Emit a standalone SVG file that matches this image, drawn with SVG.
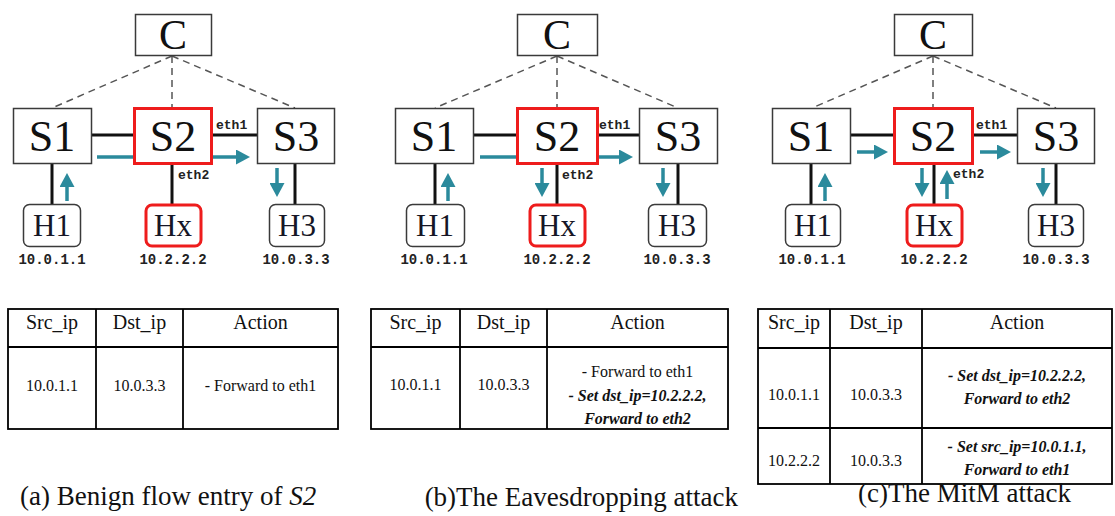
<svg xmlns="http://www.w3.org/2000/svg" width="1115" height="516" viewBox="0 0 1115 516">
<style>
.box{fill:#fff;stroke:#3a3a3a;stroke-width:1.5}
.red{fill:#fff;stroke:#ee1c1c;stroke-width:3}
.host{fill:#fff;stroke:#3a3a3a;stroke-width:1.5}
.lbl{font-family:"Liberation Serif",serif;font-size:44px;fill:#111;text-anchor:middle}
.clbl{font-family:"Liberation Serif",serif;font-size:42px;fill:#111;text-anchor:middle}
.hlbl{font-family:"Liberation Serif",serif;font-size:31px;fill:#161626;text-anchor:middle}
.ip{font-family:"Liberation Mono",monospace;font-size:14px;font-weight:bold;fill:#222;text-anchor:middle}
.eth{font-family:"Liberation Mono",monospace;font-size:13px;font-weight:bold;fill:#222}
.dash{stroke:#555;stroke-width:1.5;stroke-dasharray:7 5;fill:none}
.link{stroke:#111;stroke-width:3;fill:none}
.arr{stroke:#2b8a9c;stroke-width:3.5;fill:none;marker-end:url(#ah)}
.tbl{fill:none;stroke:#000;stroke-width:1.8}
.th{font-family:"Liberation Serif",serif;font-size:20px;fill:#111;text-anchor:middle}
.td{font-family:"Liberation Serif",serif;font-size:16px;fill:#111;text-anchor:middle}
.tb{font-family:"Liberation Serif",serif;font-size:16px;font-weight:bold;font-style:italic;fill:#111;text-anchor:middle}
.cap{font-family:"Liberation Serif",serif;font-size:27px;fill:#111}
</style>
<defs>
<marker id="ah" viewBox="0 0 14 15" markerWidth="14" markerHeight="15" refX="1" refY="7.5" orient="auto" markerUnits="userSpaceOnUse">
<path d="M0,0 L14,7.5 L0,15 z" fill="#2b8a9c"/>
</marker>
</defs>

<!-- connectors -->
<g id="connectors">
<!-- panel a -->
<line class="dash" x1="172" y1="56" x2="52" y2="108"/>
<line class="dash" x1="172" y1="56" x2="172" y2="107"/>
<line class="dash" x1="172" y1="56" x2="295" y2="108"/>
<line class="link" x1="92" y1="135" x2="133" y2="135"/>
<line class="link" x1="213" y1="135" x2="257" y2="135"/>
<line class="link" x1="52" y1="164" x2="52" y2="204"/>
<line class="link" x1="172" y1="165" x2="172" y2="205"/>
<line class="link" x1="295" y1="164" x2="295" y2="204"/>
<line class="arr" x1="97" y1="157" x2="237" y2="157"/>
<line class="arr" x1="67" y1="201" x2="67" y2="186"/>
<line class="arr" x1="277" y1="168" x2="277" y2="184"/>
<!-- panel b -->
<line class="dash" x1="557" y1="56" x2="435" y2="108"/>
<line class="dash" x1="557" y1="56" x2="557" y2="107"/>
<line class="dash" x1="557" y1="56" x2="678" y2="108"/>
<line class="link" x1="474" y1="135" x2="516" y2="135"/>
<line class="link" x1="598" y1="135" x2="639" y2="135"/>
<line class="link" x1="435" y1="164" x2="435" y2="204"/>
<line class="link" x1="557" y1="165" x2="557" y2="205"/>
<line class="link" x1="678" y1="164" x2="678" y2="204"/>
<line class="arr" x1="480" y1="157" x2="620" y2="157"/>
<line class="arr" x1="448" y1="201" x2="448" y2="186"/>
<line class="arr" x1="542" y1="168" x2="542" y2="184"/>
<line class="arr" x1="663" y1="168" x2="663" y2="184"/>
<!-- panel c -->
<line class="dash" x1="933" y1="56" x2="812" y2="108"/>
<line class="dash" x1="933" y1="56" x2="933" y2="107"/>
<line class="dash" x1="933" y1="56" x2="1056" y2="108"/>
<line class="link" x1="851" y1="135" x2="894" y2="135"/>
<line class="link" x1="973" y1="135" x2="1017" y2="135"/>
<line class="link" x1="811" y1="164" x2="811" y2="204"/>
<line class="link" x1="934" y1="165" x2="934" y2="205"/>
<line class="link" x1="1056" y1="164" x2="1056" y2="204"/>
<line class="arr" x1="857" y1="152" x2="875" y2="152"/>
<line class="arr" x1="980" y1="152" x2="998" y2="152"/>
<line class="arr" x1="825" y1="201" x2="825" y2="186"/>
<line class="arr" x1="922" y1="168" x2="922" y2="184"/>
<line class="arr" x1="947" y1="199" x2="947" y2="183"/>
<line class="arr" x1="1043" y1="168" x2="1043" y2="184"/>
</g>

<!-- panel a nodes -->
<g id="a-C"><rect class="box" x="135.5" y="14.5" width="76" height="41"/><text class="clbl" x="173" y="49">C</text></g>
<g id="a-S1"><rect class="box" x="13.5" y="108.5" width="78" height="55"/><text class="lbl" x="52" y="151">S1</text></g>
<g id="a-S2"><rect class="red" x="134.5" y="108.5" width="77" height="55"/><text class="lbl" x="173" y="151">S2</text></g>
<g id="a-S3"><rect class="box" x="257.5" y="108.5" width="77" height="55"/><text class="lbl" x="296" y="151">S3</text></g>
<g id="a-H1"><rect class="host" x="23.5" y="204.5" width="57" height="42" rx="6"/><text class="hlbl" x="52" y="236">H1</text><text class="ip" x="52" y="264">10.0.1.1</text></g>
<g id="a-Hx"><rect class="red" x="146" y="205" width="55" height="41" rx="6"/><text class="hlbl" x="173" y="236">Hx</text><text class="ip" x="173" y="264">10.2.2.2</text></g>
<g id="a-H3"><rect class="host" x="269.5" y="204.5" width="55" height="42" rx="6"/><text class="hlbl" x="297" y="236">H3</text><text class="ip" x="296" y="264">10.0.3.3</text></g>
<g id="a-labels"><text class="eth" x="216" y="129">eth1</text><text class="eth" x="178" y="179">eth2</text></g>

<!-- panel b nodes -->
<g id="b-C"><rect class="box" x="517.5" y="14.5" width="80" height="41"/><text class="clbl" x="557" y="49">C</text></g>
<g id="b-S1"><rect class="box" x="395.5" y="108.5" width="78" height="55"/><text class="lbl" x="434" y="151">S1</text></g>
<g id="b-S2"><rect class="red" x="517.5" y="108.5" width="80" height="55"/><text class="lbl" x="557" y="151">S2</text></g>
<g id="b-S3"><rect class="box" x="639.5" y="108.5" width="78" height="55"/><text class="lbl" x="678" y="151">S3</text></g>
<g id="b-H1"><rect class="host" x="406.5" y="204.5" width="58" height="42" rx="6"/><text class="hlbl" x="435" y="236">H1</text><text class="ip" x="434" y="264">10.0.1.1</text></g>
<g id="b-Hx"><rect class="red" x="530" y="205" width="55" height="41" rx="6"/><text class="hlbl" x="557" y="236">Hx</text><text class="ip" x="557" y="264">10.2.2.2</text></g>
<g id="b-H3"><rect class="host" x="648.5" y="204.5" width="58" height="42" rx="6"/><text class="hlbl" x="677" y="236">H3</text><text class="ip" x="677" y="264">10.0.3.3</text></g>
<g id="b-labels"><text class="eth" x="599" y="129">eth1</text><text class="eth" x="562" y="179">eth2</text></g>

<!-- panel c nodes -->
<g id="c-C"><rect class="box" x="894.5" y="14.5" width="78" height="41"/><text class="clbl" x="933" y="49">C</text></g>
<g id="c-S1"><rect class="box" x="772.5" y="108.5" width="78" height="55"/><text class="lbl" x="811" y="151">S1</text></g>
<g id="c-S2"><rect class="red" x="894.5" y="108.5" width="78" height="55"/><text class="lbl" x="933" y="151">S2</text></g>
<g id="c-S3"><rect class="box" x="1017.5" y="108.5" width="77" height="55"/><text class="lbl" x="1056" y="151">S3</text></g>
<g id="c-H1"><rect class="host" x="785.5" y="204.5" width="55" height="42" rx="6"/><text class="hlbl" x="813" y="236">H1</text><text class="ip" x="812" y="264">10.0.1.1</text></g>
<g id="c-Hx"><rect class="red" x="907" y="205" width="55" height="41" rx="6"/><text class="hlbl" x="934" y="236">Hx</text><text class="ip" x="934" y="264">10.2.2.2</text></g>
<g id="c-H3"><rect class="host" x="1028.5" y="204.5" width="55" height="42" rx="6"/><text class="hlbl" x="1056" y="236">H3</text><text class="ip" x="1056" y="264">10.0.3.3</text></g>
<g id="c-labels"><text class="eth" x="976" y="129">eth1</text><text class="eth" x="953" y="178">eth2</text></g>

<!-- table a -->
<g id="table-a">
<rect class="tbl" x="8" y="309" width="330" height="120"/>
<line class="tbl" x1="8" y1="347" x2="338" y2="347"/>
<line class="tbl" x1="96" y1="309" x2="96" y2="429"/>
<line class="tbl" x1="183" y1="309" x2="183" y2="429"/>
<text class="th" x="52" y="329">Src_ip</text>
<text class="th" x="139.5" y="329">Dst_ip</text>
<text class="th" x="260.5" y="329">Action</text>
<text class="td" x="52" y="391">10.0.1.1</text>
<text class="td" x="139.5" y="391">10.0.3.3</text>
<text class="td" x="260.5" y="391">- Forward to eth1</text>
</g>

<!-- table b -->
<g id="table-b">
<rect class="tbl" x="371" y="309" width="357" height="120"/>
<line class="tbl" x1="371" y1="347" x2="728" y2="347"/>
<line class="tbl" x1="460" y1="309" x2="460" y2="429"/>
<line class="tbl" x1="547" y1="309" x2="547" y2="429"/>
<text class="th" x="415.5" y="329">Src_ip</text>
<text class="th" x="503.5" y="329">Dst_ip</text>
<text class="th" x="637.5" y="329">Action</text>
<text class="td" x="415.5" y="390">10.0.1.1</text>
<text class="td" x="503.5" y="390">10.0.3.3</text>
<text class="td" x="637.5" y="377">- Forward to eth1</text>
<text class="tb" x="637.5" y="401">- Set dst_ip=10.2.2.2,</text>
<text class="tb" x="637.5" y="424">Forward to eth2</text>
</g>

<!-- table c -->
<g id="table-c">
<rect class="tbl" x="758" y="309" width="354" height="175"/>
<line class="tbl" x1="758" y1="348" x2="1112" y2="348"/>
<line class="tbl" x1="758" y1="428" x2="1112" y2="428"/>
<line class="tbl" x1="830" y1="309" x2="830" y2="484"/>
<line class="tbl" x1="922" y1="309" x2="922" y2="484"/>
<text class="th" x="794" y="329">Src_ip</text>
<text class="th" x="876" y="329">Dst_ip</text>
<text class="th" x="1017" y="329">Action</text>
<text class="td" x="794" y="400">10.0.1.1</text>
<text class="td" x="876" y="400">10.0.3.3</text>
<text class="tb" x="1017" y="381">- Set dst_ip=10.2.2.2,</text>
<text class="tb" x="1017" y="404">Forward to eth2</text>
<text class="td" x="794" y="466">10.2.2.2</text>
<text class="td" x="876" y="466">10.0.3.3</text>
<text class="tb" x="1017" y="452">- Set src_ip=10.0.1.1,</text>
<text class="tb" x="1017" y="475">Forward to eth1</text>
</g>

<!-- captions -->
<g id="captions">
<text class="cap" x="20" y="505">(a) Benign flow entry of <tspan font-style="italic">S2</tspan></text>
<text class="cap" x="738" y="506" text-anchor="end">(b)The Eavesdropping attack</text>
<text class="cap" x="858" y="502" font-size="25">(c)The MitM attack</text>
</g>
</svg>
